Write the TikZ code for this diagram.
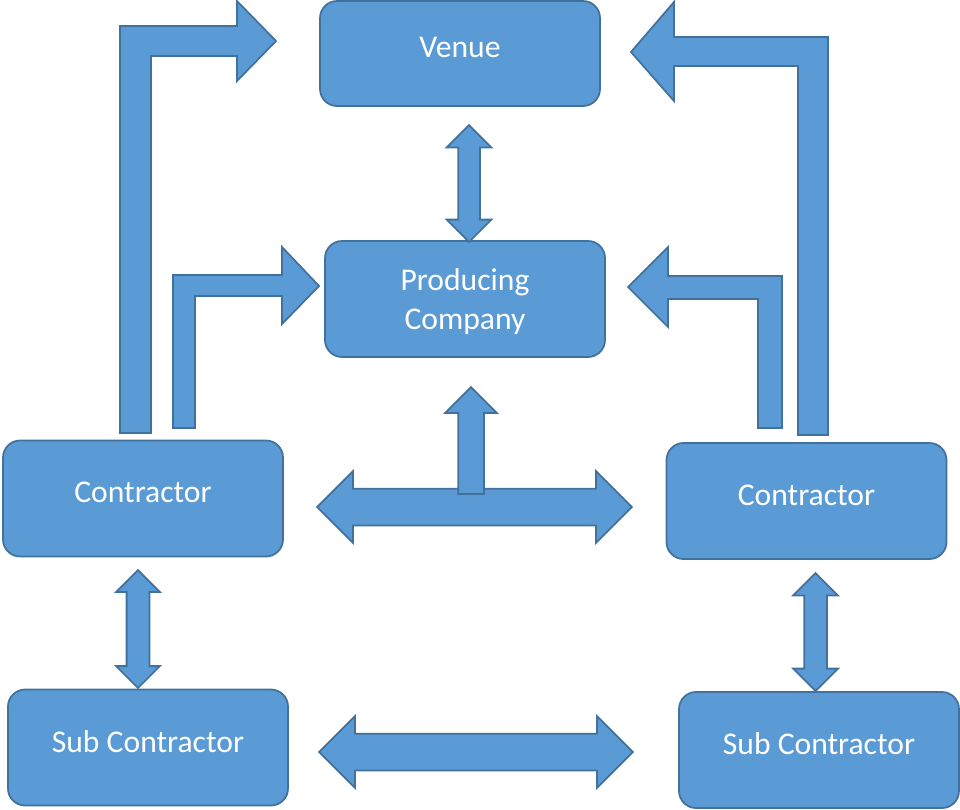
\documentclass[tikz,border=0pt]{standalone}
\usepackage{fontspec}
\setmainfont{Carlito}
\usetikzlibrary{shapes.arrows}
\definecolor{boxblue}{HTML}{5B9BD5}
\definecolor{edgeblue}{HTML}{41719C}

\begin{document}
\begin{tikzpicture}[x=0.02cm, y=-0.02cm,
        box/.style={rectangle, draw=edgeblue, fill=boxblue, line width=1pt, rounded corners=0.34cm, minimum width=5.6cm, minimum height=2.32cm, text=white, font=\fontsize{18}{22}\selectfont, align=center, text depth=7pt},
        blk/.style={draw=edgeblue, fill=boxblue, line width=1pt},
        dblarrow/.style={blk, double arrow, double arrow head indent=0pt},
        onearrow/.style={blk, single arrow, single arrow head indent=0pt}
    ]
        \useasboundingbox (0,0) rectangle (960,809);

        % Venue
        \node[box, minimum height=2.1cm] (venue) at (460,53.5) {Venue};

        % Producing Company
        \node[box, text depth=0pt] (prod) at (465,299) {Producing\\Company};

        % Contractors
        \node[box] (conL) at (143,498.5) {Contractor};
        \node[box] (conR) at (806.5,501) {Contractor};

        % Sub Contractors
        \node[box] (subL) at (148,747.5) {Sub Contractor};
        \node[box] (subR) at (819,750) {Sub Contractor};

        % Bent arrows, left side
        \draw[blk] (120,433) -- (120,26) -- (237,26) -- (237,1) -- (276,41) -- (237,81) -- (237,56) -- (151,56) -- (151,433) -- cycle;
        \draw[blk] (173,428) -- (173,275) -- (282,275) -- (282,247) -- (319,286) -- (282,324) -- (282,296) -- (195,296) -- (195,428) -- cycle;

        % Bent arrows, right side
        \draw[blk] (828,435) -- (828,37) -- (674,37) -- (674,2) -- (631,52) -- (674,101) -- (674,66) -- (798,66) -- (798,435) -- cycle;
        \draw[blk] (782,428) -- (782,276) -- (668,276) -- (668,247) -- (628,287) -- (668,327) -- (668,299) -- (758,299) -- (758,428) -- cycle;

        % Straight arrows
        \node[dblarrow, rotate=90, minimum height=2.34cm, inner sep=0.2cm, double arrow head extend=0.23cm] (vp) at (469,183.5) {};
        \node[dblarrow, rotate=90, minimum height=2.36cm, inner sep=0.21cm, double arrow head extend=0.21cm] (cl) at (138,629) {};
        \node[dblarrow, rotate=90, minimum height=2.36cm, inner sep=0.21cm, double arrow head extend=0.22cm] (cr) at (815.5,632) {};
        \node[dblarrow, minimum height=6.3cm, inner sep=0.35cm, double arrow head extend=0.35cm] (cc) at (474.5,507) {};
        \node[onearrow, rotate=90, minimum height=2.14cm, inner sep=0.24cm, single arrow head extend=0.26cm] (up) at (471,447) {};
        \node[dblarrow, minimum height=6.28cm, inner sep=0.35cm, double arrow head extend=0.35cm] (ss) at (476,752) {};

    \end{tikzpicture}
\end{document}
